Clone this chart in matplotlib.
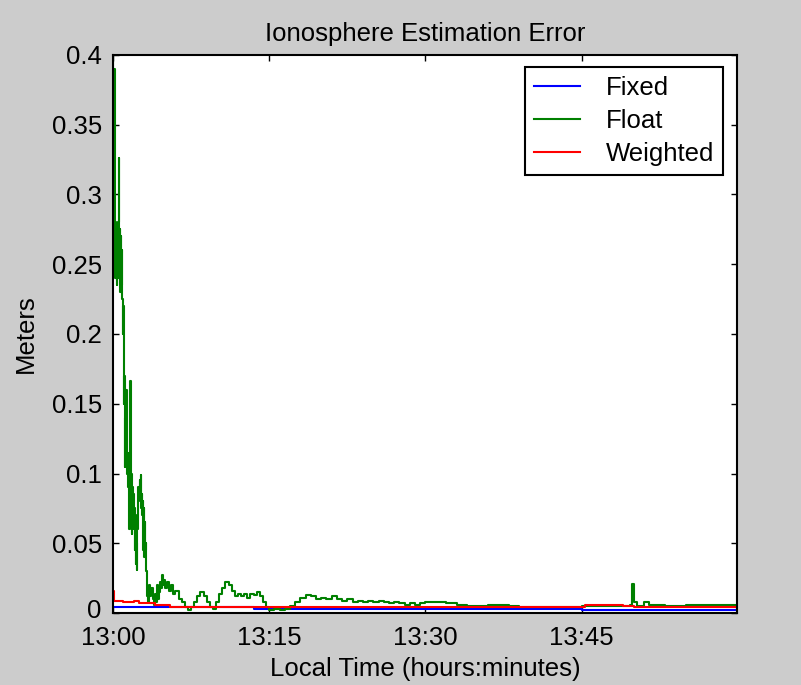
import matplotlib
matplotlib.use("Agg")
import matplotlib.pyplot as plt
from matplotlib.transforms import ScaledTranslation

# time in minutes after 13:00
float_t = [0.0, 0.05, 0.1, 0.15, 0.2, 0.25, 0.3, 0.35, 0.4, 0.45, 0.5, 0.55, 0.6, 0.65,
           0.7, 0.75, 0.8, 0.85, 0.9, 0.95, 1.0, 1.05, 1.1, 1.15, 1.2, 1.25, 1.3, 1.35,
           1.4, 1.45, 1.5, 1.55, 1.6, 1.65, 1.7, 1.75, 1.8, 1.85, 1.9, 1.95, 2.0, 2.05,
           2.1, 2.15, 2.2, 2.25, 2.3, 2.35, 2.4, 2.45, 2.5, 2.55, 2.6, 2.65, 2.7, 2.75,
           2.8, 2.85, 2.9, 2.95, 3.0, 3.05, 3.1, 3.15, 3.2, 3.25, 3.3, 3.35, 3.4, 3.5,
           3.6, 3.7, 3.8, 3.9, 4.0, 4.1, 4.2, 4.3, 4.4, 4.5, 4.6, 4.7, 4.8, 4.9, 5.0,
           5.2, 5.4, 5.6, 5.8, 6.0, 6.3, 6.6, 6.9, 7.2, 7.5, 7.8, 8.1, 8.4, 8.7, 9.0,
           9.3, 9.6, 9.9, 10.2, 10.5, 10.8, 11.1, 11.4, 11.7, 12.0, 12.3, 12.6, 12.9,
           13.2, 13.5, 13.8, 14.1, 14.4, 14.7, 15.0, 15.5, 16.0, 16.5, 17.0, 17.5, 18.0,
           18.5, 19.0, 19.5, 20.0, 20.5, 21.0, 21.5, 22.0, 22.5, 23.0, 23.5, 24.0, 24.5,
           25.0, 25.5, 26.0, 26.5, 27.0, 27.5, 28.0, 28.5, 29.0, 29.5, 30.0, 31.0, 32.0,
           33.0, 34.0, 35.0, 36.0, 37.0, 38.0, 39.0, 40.0, 41.0, 42.0, 43.0, 44.0, 45.0,
           46.0, 47.0, 48.0, 49.0, 49.6, 49.8, 50.0, 50.3, 51.0, 51.5, 52.0, 53.0, 54.0,
           55.0, 56.0, 57.0, 58.0, 59.0, 59.9]
float_v = [0.40, 0.24, 0.39, 0.25, 0.28, 0.24, 0.275, 0.235, 0.27, 0.24, 0.28, 0.326, 0.24, 0.275,
           0.23, 0.27, 0.235, 0.26, 0.225, 0.20, 0.22, 0.15, 0.17, 0.105, 0.14, 0.12, 0.16, 0.10,
           0.115, 0.09, 0.11, 0.06, 0.09, 0.166, 0.07, 0.10, 0.057, 0.09, 0.07, 0.085, 0.06, 0.075,
           0.045, 0.07, 0.035, 0.05, 0.031, 0.06, 0.08, 0.09, 0.085, 0.095, 0.08, 0.099, 0.075, 0.085,
           0.07, 0.08, 0.045, 0.075, 0.04, 0.065, 0.045, 0.05, 0.03, 0.022, 0.012, 0.018, 0.008, 0.02,
           0.012, 0.018, 0.01, 0.006, 0.014, 0.008, 0.02, 0.01, 0.015, 0.022, 0.018, 0.027, 0.02, 0.024, 0.018,
           0.022, 0.016, 0.02, 0.014, 0.016, 0.01, 0.008, 0.004, 0.002, 0.004, 0.008, 0.012, 0.015, 0.012, 0.008,
           0.004, 0.003, 0.008, 0.014, 0.018, 0.022, 0.02, 0.016, 0.012, 0.014, 0.012, 0.014, 0.011,
           0.014, 0.013, 0.015, 0.012, 0.008, 0.004, 0.002, 0.003, 0.002, 0.003, 0.005, 0.008, 0.011,
           0.013, 0.012, 0.01, 0.011, 0.01, 0.012, 0.01, 0.009, 0.01, 0.008, 0.009, 0.008, 0.009,
           0.008, 0.009, 0.008, 0.007, 0.008, 0.007, 0.006, 0.007, 0.006, 0.007, 0.008, 0.008, 0.007,
           0.006, 0.005, 0.005, 0.006, 0.006, 0.005, 0.004, 0.004, 0.004, 0.004, 0.004, 0.004, 0.005,
           0.005, 0.005, 0.005, 0.005, 0.006, 0.021, 0.008, 0.005, 0.008, 0.006, 0.006, 0.005, 0.005,
           0.006, 0.006, 0.006, 0.006, 0.006, 0.006]

fixed_t = [0.0, 13.0, 13.5, 30.0, 45.0, 59.9]
fixed_v = [0.004, 0.004, 0.003, 0.0028, 0.002, 0.002]

weighted_t = [0.0, 0.1, 1.0, 2.0, 2.5, 4.0, 5.5, 20.0, 45.0, 45.3, 49.0, 50.0, 59.0, 59.9]
weighted_v = [0.016, 0.009, 0.008, 0.009, 0.007, 0.006, 0.004, 0.004, 0.004, 0.006, 0.005, 0.004, 0.004, 0.003]

x_ticks = [0, 15, 30, 45]
x_labels = ["13:00", "13:15", "13:30", "13:45"]
y_ticks = [0, 0.05, 0.1, 0.15, 0.2, 0.25, 0.3, 0.35, 0.4]
y_labels = ["0", "0.05", "0.1", "0.15", "0.2", "0.25", "0.3", "0.35", "0.4"]

plt.rcParams['font.family'] = ['Liberation Sans', 'DejaVu Sans']
plt.rcParams['font.size'] = 18.5

fig = plt.figure(figsize=(8.01, 6.85), dpi=100, facecolor="#cccccc")
ax = fig.add_axes([0.141, 0.105, 0.779, 0.815])
ax.set_facecolor("white")

ax.plot(fixed_t, fixed_v, color="#0000ff", lw=1.5, label="Fixed", drawstyle="steps-post")
ax.plot(float_t, float_v, color="#008000", lw=1.5, label="Float", drawstyle="steps-post")
ax.plot(weighted_t, weighted_v, color="#ff0000", lw=1.5, label="Weighted", drawstyle="steps-post")

ax.set_xlim(0, 59.9)
ax.set_ylim(0, 0.4)
ax.set_xticks(x_ticks)
ax.set_xticklabels(x_labels)
ax.set_yticks(y_ticks)
ax.set_yticklabels(y_labels)
ax.tick_params(direction="in", length=4.5, width=1, top=True, right=True)
ax.tick_params(axis="x", pad=9)
ax.tick_params(axis="y", pad=8)
for s in ax.spines.values():
    s.set_linewidth(1.5)

# lift the "0" label a little so it clears "13:00"
zero = ax.get_yticklabels()[0]
zero.set_transform(zero.get_transform() + ScaledTranslation(0, 3 / 72, fig.dpi_scale_trans))

ax.set_title("Ionosphere Estimation Error", fontsize=18.5, pad=10)
ax.set_xlabel("Local Time (hours:minutes)", labelpad=5.5)
ax.set_ylabel("Meters", labelpad=10)

leg = ax.legend(loc="upper right", bbox_to_anchor=(0.978, 0.978), borderaxespad=0,
                fancybox=False, edgecolor="black", framealpha=1, handlelength=1.8,
                handletextpad=1.0, borderpad=0.35, labelspacing=0.34)
leg.get_frame().set_linewidth(1.5)

fig.savefig("out.png", dpi=100, facecolor=fig.get_facecolor())
